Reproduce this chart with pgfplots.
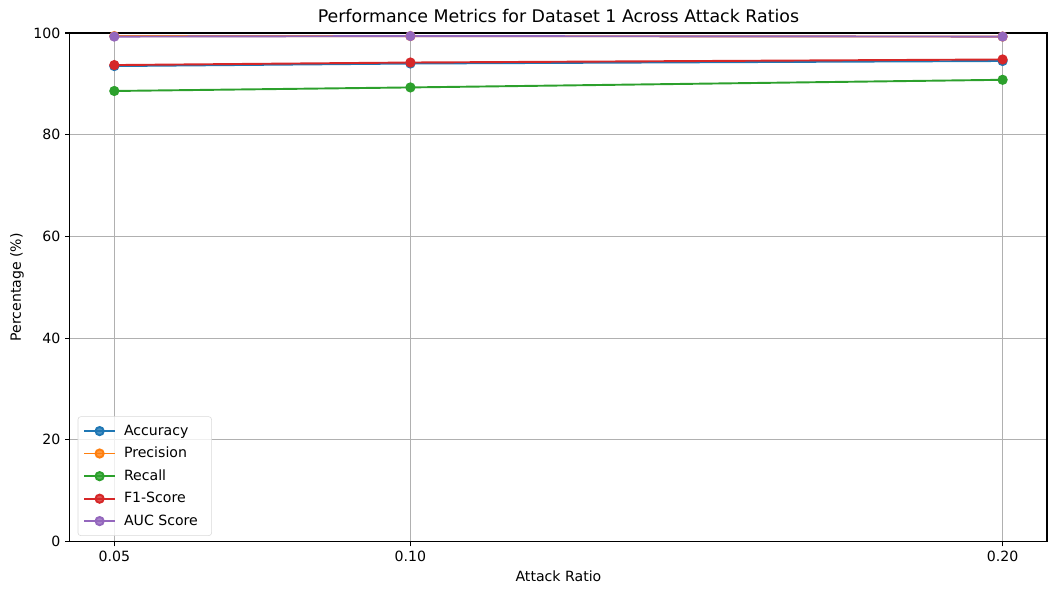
\documentclass[border=0pt]{standalone}
\usepackage{fontspec}
\setmainfont{DejaVu Sans}
\usepackage{pgfplots}
\pgfplotsset{compat=1.18}
\definecolor{c0}{HTML}{1F77B4}
\definecolor{c1}{HTML}{FF7F0E}
\definecolor{c2}{HTML}{2CA02C}
\definecolor{c3}{HTML}{D62728}
\definecolor{c4}{HTML}{9467BD}
\begin{document}
\begin{tikzpicture}
\useasboundingbox (-51pt,-36.5pt) rectangle (725.4pt,395.1pt);
\begin{axis}[
    at={(0,0)}, anchor=south west,
    width=713pt, height=371pt, scale only axis,
    xmin=0.0425, xmax=0.2075, ymin=0, ymax=100,
    xtick={0.05,0.10,0.20},
    ytick={0,20,40,60,80,100},
    xticklabel style={/pgf/number format/.cd, fixed, fixed zerofill, precision=2},
    /pgf/number format/assume math mode=true,
    scaled x ticks=false,
    tick align=outside, tick pos=left,
    major tick length=3.5pt,
    tick style={black, line width=0.8pt},
    axis line style={line width=0.8pt},
    grid=major,
    grid style={color=black!31, line width=0.8pt},
    ticklabel style={font=\fontsize{10.3}{12}\selectfont},
    title={Performance Metrics for Dataset 1 Across Attack Ratios},
    title style={font=\fontsize{12.7}{14}\selectfont, yshift=-2pt},
    xlabel={Attack Ratio},
    ylabel={Percentage (\%)},
    label style={font=\fontsize{10.3}{12}\selectfont},
    legend style={at={(0.008,0.011)}, anchor=south west, font=\fontsize{10.3}{12}\selectfont,
        draw=black!15, rounded corners=2pt, fill=white, fill opacity=0.8, text opacity=1,
        row sep=3.2pt, inner sep=4pt, nodes={inner xsep=6pt}},
    legend image code/.code={
        \draw[mark repeat=2, mark phase=2] plot coordinates {(0cm,0cm) (0.39cm,0cm) (0.78cm,0cm)};
    },
    legend cell align=left,
    every axis plot/.append style={line width=1.4pt, mark=*, mark size=3pt, mark options={solid}},
]
\addplot[color=c0] coordinates {(0.05,93.5) (0.10,94.0) (0.20,94.5)};
\addlegendentry{Accuracy}
\addplot[color=c1] coordinates {(0.05,99.4) (0.10,99.4) (0.20,99.3)};
\addlegendentry{Precision}
\addplot[color=c2] coordinates {(0.05,88.6) (0.10,89.3) (0.20,90.8)};
\addlegendentry{Recall}
\addplot[color=c3] coordinates {(0.05,93.7) (0.10,94.2) (0.20,94.8)};
\addlegendentry{F1-Score}
\addplot[color=c4] coordinates {(0.05,99.3) (0.10,99.4) (0.20,99.3)};
\addlegendentry{AUC Score}
\end{axis}
\end{tikzpicture}
\end{document}
